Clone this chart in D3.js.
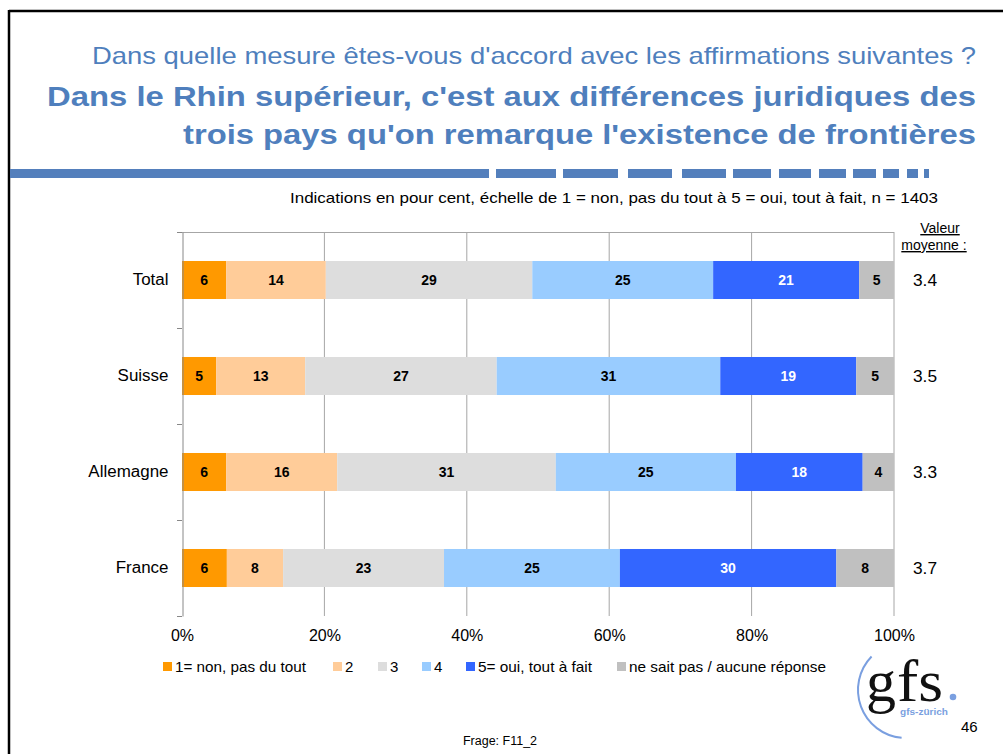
<!DOCTYPE html>
<html><head><meta charset="utf-8">
<script src="https://cdn.jsdelivr.net/npm/d3@7"></script>
<style>body{margin:0;background:#fff}svg{display:block;font-family:"Liberation Sans",Arial,sans-serif}</style>
</head><body>
<script>
const categories = ["Total", "Suisse", "Allemagne", "France"];
const seriesNames = ["1= non, pas du tout", "2", "3", "4", "5= oui, tout à fait", "ne sait pas / aucune réponse"];
const s1 = [6.2, 4.8, 6.2, 6.3];
const s2 = [14.0, 12.5, 15.6, 7.9];
const s3 = [29.0, 26.9, 30.7, 22.6];
const s4 = [25.4, 31.4, 25.3, 24.7];
const s5 = [20.5, 19.1, 17.8, 30.4];
const s6 = [4.9, 5.3, 4.4, 8.1];
const labels1 = [6, 5, 6, 6];
const labels2 = [14, 13, 16, 8];
const labels3 = [29, 27, 31, 23];
const labels4 = [25, 31, 25, 25];
const labels5 = [21, 19, 18, 30];
const labels6 = [5, 5, 4, 8];
const means = ["3.4", "3.5", "3.3", "3.7"];
const xTicks = [0, 20, 40, 60, 80, 100];
const colors = ["#ff9900", "#ffcc99", "#dddddd", "#99ccff", "#3366ff", "#c0c0c0"];
const labelColors = ["#000", "#000", "#000", "#000", "#fff", "#000"];

const series = [s1, s2, s3, s4, s5, s6];
const seriesLabels = [labels1, labels2, labels3, labels4, labels5, labels6];
const rows = categories.map((c, i) => {
  const r = {cat: c};
  seriesNames.forEach((s, j) => r[s] = series[j][i]);
  return r;
});

const W = 1003, H = 754;
const svg = d3.select("body").append("svg").attr("width", W).attr("height", H);
const blue = "#4f7fbd";

function stretchTo(sel, len) {
  sel.attr("textLength", len).attr("lengthAdjust", "spacingAndGlyphs");
}
function stretchBy(sel, f) {
  sel.each(function () {
    const l = this.getComputedTextLength();
    d3.select(this).attr("textLength", l * f).attr("lengthAdjust", "spacingAndGlyphs");
  });
}

// frame
svg.append("line").attr("x1", 9).attr("x2", W).attr("y1", 11).attr("y2", 11).attr("stroke", "#000").attr("stroke-width", 2.5);
svg.append("line").attr("x1", 9).attr("x2", 9).attr("y1", 10).attr("y2", H).attr("stroke", "#000").attr("stroke-width", 2.5);

// titles
svg.append("text").attr("x", 976).attr("y", 64).attr("text-anchor", "end")
  .attr("font-size", 24).attr("fill", blue).text("Dans quelle mesure êtes-vous d'accord avec les affirmations suivantes ?")
  .call(stretchTo, 884);
svg.append("text").attr("x", 976).attr("y", 106).attr("text-anchor", "end")
  .attr("font-size", 27.5).attr("font-weight", "bold").attr("fill", blue).text("Dans le Rhin supérieur, c'est aux différences juridiques des")
  .call(stretchTo, 929);
svg.append("text").attr("x", 976).attr("y", 144).attr("text-anchor", "end")
  .attr("font-size", 27.5).attr("font-weight", "bold").attr("fill", blue).text("trois pays qu'on remarque l'existence de frontières")
  .call(stretchTo, 793);

// dashed rule
const dashes = [[10, 489], [496, 556], [563, 618], [628, 672], [682, 726], [733, 771], [779, 811], [819, 846], [853, 876], [883, 899], [907, 918], [924, 929]];
svg.append("g").selectAll("rect").data(dashes).join("rect")
  .attr("x", d => d[0]).attr("width", d => d[1] - d[0]).attr("y", 169).attr("height", 9).attr("fill", "#537fbc");

svg.append("text").attr("x", 938).attr("y", 203).attr("text-anchor", "end").attr("font-size", 14.5).attr("fill", "#000")
  .text("Indications en pour cent, échelle de 1 = non, pas du tout à 5 = oui, tout à fait, n = 1403")
  .call(stretchTo, 648);

// scales
const x = d3.scaleLinear().domain([0, 100]).range([182, 894]);
const y = d3.scaleBand().domain(categories).range([232, 616]).paddingInner(0.604).paddingOuter(0.302);

// gridlines
svg.append("g").selectAll("line").data(xTicks.slice(1)).join("line")
  .attr("x1", d => x(d)).attr("x2", d => x(d)).attr("y1", 232).attr("y2", 616)
  .attr("stroke", "#a6a6a6").attr("stroke-width", 1);
svg.append("line").attr("x1", 182).attr("x2", 894).attr("y1", 232.5).attr("y2", 232.5).attr("stroke", "#a6a6a6");

// bars
const stack = d3.stack().keys(seriesNames)(rows);
const g = svg.append("g");
stack.forEach((layer, j) => {
  g.append("g").selectAll("rect").data(layer).join("rect")
    .attr("x", d => x(d[0])).attr("width", d => x(d[1]) - x(d[0]))
    .attr("y", d => y(d.data.cat)).attr("height", y.bandwidth())
    .attr("fill", colors[j]);
  g.append("g").selectAll("text").data(layer).join("text")
    .attr("x", d => (x(d[0]) + x(d[1])) / 2).attr("y", d => y(d.data.cat) + y.bandwidth() / 2 + 5)
    .attr("text-anchor", "middle").attr("font-size", 14).attr("font-weight", "bold")
    .attr("fill", labelColors[j]).text((d, i) => seriesLabels[j][i]);
});

// left axis
const yAxis = d3.axisLeft(y).tickSize(0).tickPadding(14);
const ya = svg.append("g").attr("transform", "translate(182.5,0)").call(yAxis);
ya.select(".domain").attr("stroke", "#888");
ya.selectAll("text").attr("font-size", 16).attr("fill", "#000").attr("font-family", "Liberation Sans, Arial, sans-serif")
  .call(stretchBy, 1.06);
const bounds = [232, 328, 424, 520, 616];
svg.append("g").selectAll("line").data(bounds).join("line")
  .attr("x1", 177).attr("x2", 182).attr("y1", d => d + 0.5).attr("y2", d => d + 0.5).attr("stroke", "#888");

// bottom labels
const xAxis = d3.axisBottom(x).tickValues(xTicks).tickFormat(d => d + "%").tickSize(0).tickPadding(10);
const xa = svg.append("g").attr("transform", "translate(0,620)").call(xAxis);
xa.select(".domain").remove();
xa.selectAll("text").attr("font-size", 16).attr("fill", "#000").attr("font-family", "Liberation Sans, Arial, sans-serif");

// means
svg.append("text").attr("x", 940).attr("y", 233).attr("text-anchor", "middle").attr("font-size", 14)
  .attr("text-decoration", "underline").text("Valeur");
svg.append("text").attr("x", 934).attr("y", 250).attr("text-anchor", "middle").attr("font-size", 14)
  .attr("text-decoration", "underline").text("moyenne :");
svg.append("g").selectAll("text").data(categories).join("text")
  .attr("x", 925).attr("y", d => y(d) + y.bandwidth() / 2 + 6).attr("text-anchor", "middle")
  .attr("font-size", 16).text((d, i) => means[i]).call(stretchBy, 1.08);

// legend
const legendX = [163, 333, 378, 422, 466, 617];
const legendLen = [131, 0, 0, 0, 114, 197];
const lg = svg.append("g");
seriesNames.forEach((s, j) => {
  lg.append("rect").attr("x", legendX[j]).attr("y", 662).attr("width", 9).attr("height", 9).attr("fill", colors[j]);
  const t = lg.append("text").attr("x", legendX[j] + 12).attr("y", 672).attr("font-size", 15).text(s);
  if (legendLen[j]) t.call(stretchTo, legendLen[j]);
});

// logo
const arc = d3.arc().innerRadius(47).outerRadius(49).startAngle(-3.05).endAngle(-0.8);
svg.append("path").attr("d", arc()).attr("transform", "translate(906,690)").attr("fill", "#7a9fe0");
svg.append("text").attr("x", 866).attr("y", 701).attr("font-family", "Liberation Serif, DejaVu Serif, serif")
  .attr("font-size", 60).attr("fill", "#111").text("g").call(stretchTo, 30);
svg.append("text").attr("x", 897).attr("y", 701).attr("font-family", "Liberation Serif, DejaVu Serif, serif")
  .attr("font-size", 60).attr("fill", "#111").text("fs").call(stretchTo, 46);
svg.append("circle").attr("cx", 953).attr("cy", 697).attr("r", 3.3).attr("fill", "#7a9fe0");
svg.append("text").attr("x", 924).attr("y", 715).attr("text-anchor", "middle").attr("font-size", 9)
  .attr("font-weight", "bold").attr("fill", "#7a9fe0").text("gfs-zürich").call(stretchTo, 48);
svg.append("text").attr("x", 961).attr("y", 732).attr("font-size", 15).text("46");

svg.append("text").attr("x", 500).attr("y", 745).attr("text-anchor", "middle").attr("font-size", 12.5).text("Frage: F11_2");
</script>
</body></html>
